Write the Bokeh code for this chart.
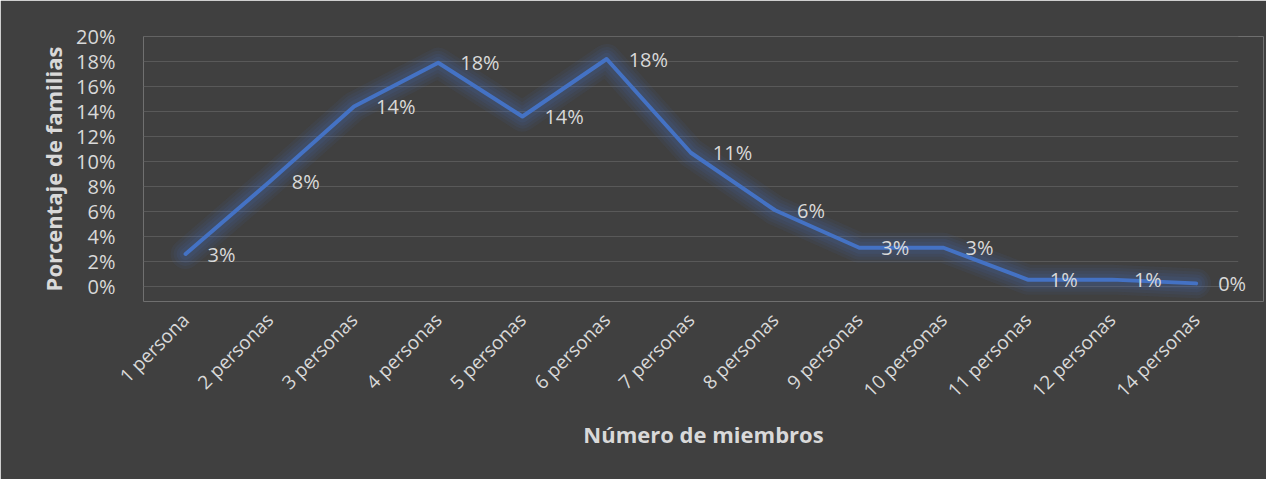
from bokeh.plotting import figure
from bokeh.models import ColumnDataSource, LabelSet, NumeralTickFormatter, Range1d, FixedTicker
from bokeh.core.properties import value
from bokeh.embed import file_html
from bokeh.resources import INLINE
import math

categories = ["1 persona", "2 personas", "3 personas", "4 personas", "5 personas",
              "6 personas", "7 personas", "8 personas", "9 personas", "10 personas",
              "11 personas", "12 personas", "14 personas"]
percent_values = [2.6, 8.4, 14.4, 17.9, 13.6, 18.2, 10.7, 6.1, 3.1, 3.1, 0.55, 0.55, 0.25]
y_ticks = [0, 0.02, 0.04, 0.06, 0.08, 0.10, 0.12, 0.14, 0.16, 0.18, 0.20]

n = len(categories)
xs = list(range(n))
fractions = [v / 100 for v in percent_values]
labels = [f"{round(v)}%" for v in percent_values]
src = ColumnDataSource(dict(x=xs, y=fractions, label=labels))

BG = "#404040"
TXT = "#d9d9d9"
FONT = "Open Sans"

# plot area: categories occupy [-0.5, n-0.5]; extra room right and below for the data labels
p = figure(width=1266, height=479, x_range=Range1d(-0.5, n - 0.5 + 0.3),
           y_range=Range1d(-0.012, 0.20), output_backend="svg", toolbar_location=None,
           min_border_left=143, min_border_right=3, min_border_top=36, min_border_bottom=178)
p.background_fill_color = BG
p.border_fill_color = BG
p.outline_line_color = None

# horizontal gridlines limited to the category span
p.segment(x0=[-0.5] * len(y_ticks), x1=[n - 0.5] * len(y_ticks), y0=y_ticks, y1=y_ticks,
          line_color="#595959", line_width=1)

# glow layers
for w, a in [(30, 0.07), (24, 0.08), (18, 0.09), (12, 0.1)]:
    p.line("x", "y", source=src, line_width=w, line_color="#4472C4", line_alpha=a,
           line_join="round", line_cap="round")
p.line("x", "y", source=src, line_width=4, line_color="#4472C4", line_join="round", line_cap="round")

lbl = LabelSet(x="x", y="y", text="label", source=src, x_offset=22, text_baseline="middle",
               text_align="left", text_font_size="20px", text_color=TXT, text_font=value(FONT))
p.add_layout(lbl)

p.xgrid.grid_line_color = None
p.ygrid.grid_line_color = None

p.yaxis.ticker = FixedTicker(ticks=y_ticks)
p.yaxis.formatter = NumeralTickFormatter(format="0%")
p.xaxis.ticker = FixedTicker(ticks=xs)
p.xaxis.major_label_overrides = {i: c for i, c in zip(xs, categories)}
for ax in (p.xaxis[0], p.yaxis[0]):
    ax.axis_line_color = None
    ax.major_tick_line_color = None
    ax.minor_tick_line_color = None
    ax.major_label_text_color = TXT
    ax.major_label_text_font = FONT
    ax.axis_label_text_color = TXT
    ax.axis_label_text_font = FONT
    ax.axis_label_text_font_style = "bold"
    ax.axis_label_text_font_size = "22px"

p.yaxis.major_label_text_font_size = "20px"
p.yaxis.major_label_standoff = 22
p.yaxis.axis_label = "Porcentaje de familias"
p.yaxis.axis_label_standoff = 5

p.xaxis.major_label_text_font_size = "19px"
p.xaxis.major_label_orientation = math.pi / 4
p.xaxis.major_label_standoff = 9
p.xaxis.axis_label = "Número de miembros"
p.xaxis.axis_label_standoff = 4

open("out.html", "w").write(file_html(p, INLINE))
